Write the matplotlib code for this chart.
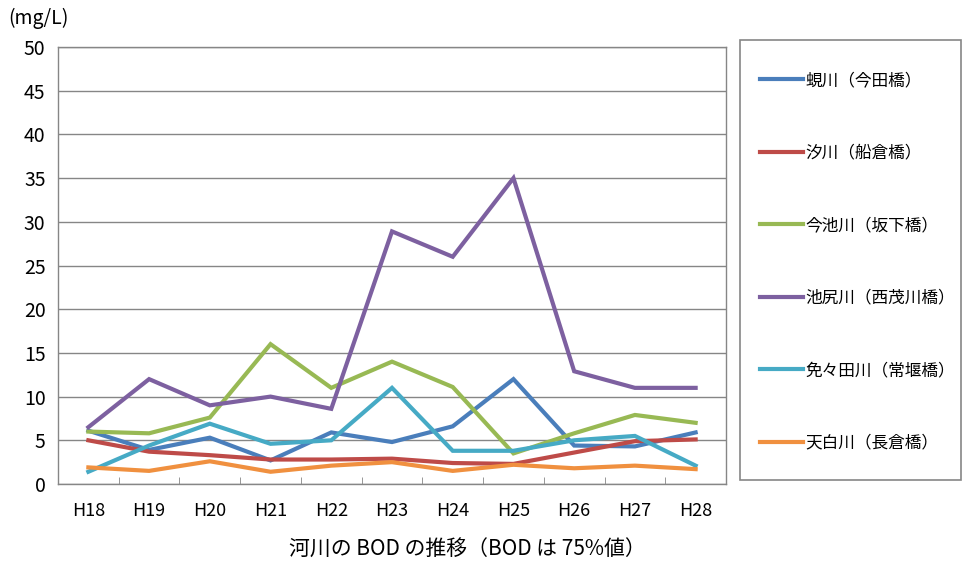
import matplotlib
matplotlib.use("Agg")
from matplotlib import pyplot as plt
from matplotlib.patches import Rectangle

plt.rcParams['font.family'] = ['Noto Sans CJK JP', 'DejaVu Sans']

# 年度
years = ['H18', 'H19', 'H20', 'H21', 'H22', 'H23', 'H24', 'H25', 'H26', 'H27', 'H28']

# 各河川の BOD (75%値) mg/L
shijimi = [6.1, 3.9, 5.3, 2.7, 5.9, 4.8, 6.6, 12.0, 4.4, 4.3, 5.9]
shio = [5.0, 3.7, 3.3, 2.8, 2.8, 2.9, 2.4, 2.3, 3.6, 4.9, 5.1]
imaike = [6.0, 5.8, 7.6, 16.0, 11.0, 14.0, 11.1, 3.5, 5.8, 7.9, 7.0]
ikejiri = [6.5, 12.0, 9.0, 10.0, 8.6, 28.9, 26.0, 35.0, 12.9, 11.0, 11.0]
menuta = [1.4, 4.4, 6.9, 4.6, 5.0, 11.0, 3.8, 3.8, 5.0, 5.5, 2.1]
tenpaku = [1.9, 1.5, 2.6, 1.4, 2.1, 2.5, 1.5, 2.2, 1.8, 2.1, 1.7]

names = ['蜆川（今田橋）', '汐川（船倉橋）', '今池川（坂下橋）',
         '池尻川（西茂川橋）', '免々田川（常堰橋）', '天白川（長倉橋）']
colors = ['#4a7ebb', '#be4b48', '#98b954', '#7d60a0', '#46aac5', '#f0903f']
series = [shijimi, shio, imaike, ikejiri, menuta, tenpaku]

fig = plt.figure(figsize=(9.63, 5.62), dpi=100)
ax = fig.add_axes([58 / 963, 1 - 484 / 562, 668 / 963, 437 / 562])

x = range(len(years))
for vals, name, c in zip(series, names, colors):
    ax.plot(x, vals, color=c, lw=3.0, label=name, solid_joinstyle='miter')

ax.set_xlim(-0.5, len(years) - 0.5)
ax.set_ylim(0, 50)
ax.set_yticks(range(0, 51, 5))
ax.set_xticks(list(x))
ax.set_xticklabels(years)
ax.set_xticks([i + 0.5 for i in range(len(years) - 1)], minor=True)
ax.tick_params(axis='x', which='major', length=0, pad=13, labelsize=13)
ax.tick_params(axis='x', which='minor', direction='in', length=5, color='#868686')
ax.tick_params(axis='y', length=0, pad=9, labelsize=14)
ax.grid(axis='y', color='#868686', lw=1)
ax.set_axisbelow(True)
for s in ax.spines.values():
    s.set_color('#868686')
    s.set_linewidth(1)

fig.text(8 / 963, 1 - 18 / 562, '(mg/L)', fontsize=14, va='center', ha='left')
fig.text(467 / 963, 1 - 550 / 562, '河川の BOD の推移（BOD は 75%値）',
         fontsize=15, ha='center', va='center')

# 凡例の枠
fig.patches.append(Rectangle((740 / 963, 1 - 480 / 562), 221 / 963, 440 / 562,
                             transform=fig.transFigure, fill=False,
                             edgecolor='#868686', lw=1.2))
fig.legend(loc='upper left', bbox_to_anchor=(745 / 963, 1 - 57 / 562),
           frameon=False, fontsize=12, labelspacing=3.33,
           handlelength=2.6, handletextpad=0.1)

fig.savefig('out.png', dpi=100)
